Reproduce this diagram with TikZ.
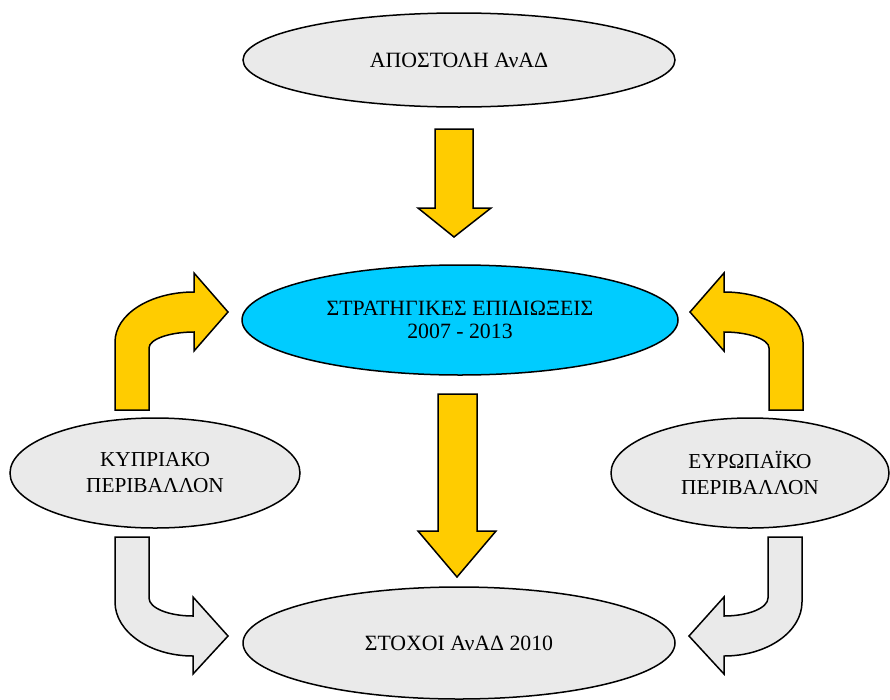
\documentclass[tikz,border=0pt]{standalone}
\usepackage{fontspec}
\setmainfont{Liberation Serif}
\usetikzlibrary{shapes.geometric}
\definecolor{arrowyellow}{HTML}{FFCC00}
\definecolor{ellblue}{HTML}{00CCFF}
\definecolor{ellgrey}{HTML}{EAEAEA}
\begin{document}
\begin{tikzpicture}[x=1pt,y=-1pt,
  ellbox/.style={ellipse,draw=black,line width=1.5pt,inner sep=0pt,align=center,
    font=\fontsize{21.8}{23}\selectfont},
  blockarrow/.style={draw=black,line width=1.5pt,line join=miter},
  yellowarrow/.style={blockarrow,fill=arrowyellow},
  greyarrow/.style={blockarrow,fill=ellgrey}]
\useasboundingbox (0,0) rectangle (890,699);
\fill[white] (0,0) rectangle (890,699);

% ellipses
\node[ellbox,fill=ellgrey,minimum width=432pt,minimum height=94pt] (mission) at (459,60) {ΑΠΟΣΤΟΛΗ ΑνΑΔ};
\node[ellbox,fill=ellblue,minimum width=436pt,minimum height=110pt] (strategy) at (460,320) {ΣΤΡΑΤΗΓΙΚΕΣ ΕΠΙΔΙΩΞΕΙΣ\\2007 - 2013};
\node[ellbox,fill=ellgrey,minimum width=290pt,minimum height=110pt,font=\fontsize{21.3}{26}\selectfont] (cyprus) at (155,473) {ΚΥΠΡΙΑΚΟ\\ΠΕΡΙΒΑΛΛΟΝ};
\node[ellbox,fill=ellgrey,minimum width=278pt,minimum height=110pt,font=\fontsize{21.3}{26}\selectfont] (europe) at (750,473) {ΕΥΡΩΠΑΪΚΟ\\ΠΕΡΙΒΑΛΛΟΝ};
\node[ellbox,fill=ellgrey,minimum width=432pt,minimum height=112pt] (goals) at (459,643) {ΣΤΟΧΟΙ ΑνΑΔ 2010};

% straight down arrows
\draw[yellowarrow] (435,129) -- (473,129) -- (473,208) -- (491,208) -- (454,237)
  -- (418,208) -- (435,208) -- cycle;
\draw[yellowarrow] (438,394) -- (477,394) -- (477,531) -- (496,531) -- (457,577)
  -- (418,531) -- (438,531) -- cycle;

% bent arrows up (yellow)
\draw[yellowarrow] (115,410) -- (115,342) .. controls (115,314.4) and (150,292) .. (194,292)
  -- (194,273) -- (228,312) -- (194,351) -- (194,332)
  .. controls (169.7,332) and (149,339.2) .. (149,348) -- (149,410) -- cycle;
\begin{scope}[xshift=918pt,xscale=-1]
\draw[yellowarrow] (115,410) -- (115,342) .. controls (115,314.4) and (150,292) .. (194,292)
  -- (194,273) -- (228,312) -- (194,351) -- (194,332)
  .. controls (169.7,332) and (149,339.2) .. (149,348) -- (149,410) -- cycle;
\end{scope}

% bent arrows down (grey)
\draw[greyarrow] (115,537) -- (115,602) .. controls (115,631.8) and (149.9,656) .. (193,656)
  -- (193,674) -- (228,636) -- (193,597) -- (193,616)
  .. controls (168.7,616) and (149,608) .. (149,598) -- (149,537) -- cycle;
\begin{scope}[xshift=917pt,xscale=-1]
\draw[greyarrow] (115,537) -- (115,602) .. controls (115,631.8) and (149.9,656) .. (193,656)
  -- (193,674) -- (228,636) -- (193,597) -- (193,616)
  .. controls (168.7,616) and (149,608) .. (149,598) -- (149,537) -- cycle;
\end{scope}
\end{tikzpicture}
\end{document}
